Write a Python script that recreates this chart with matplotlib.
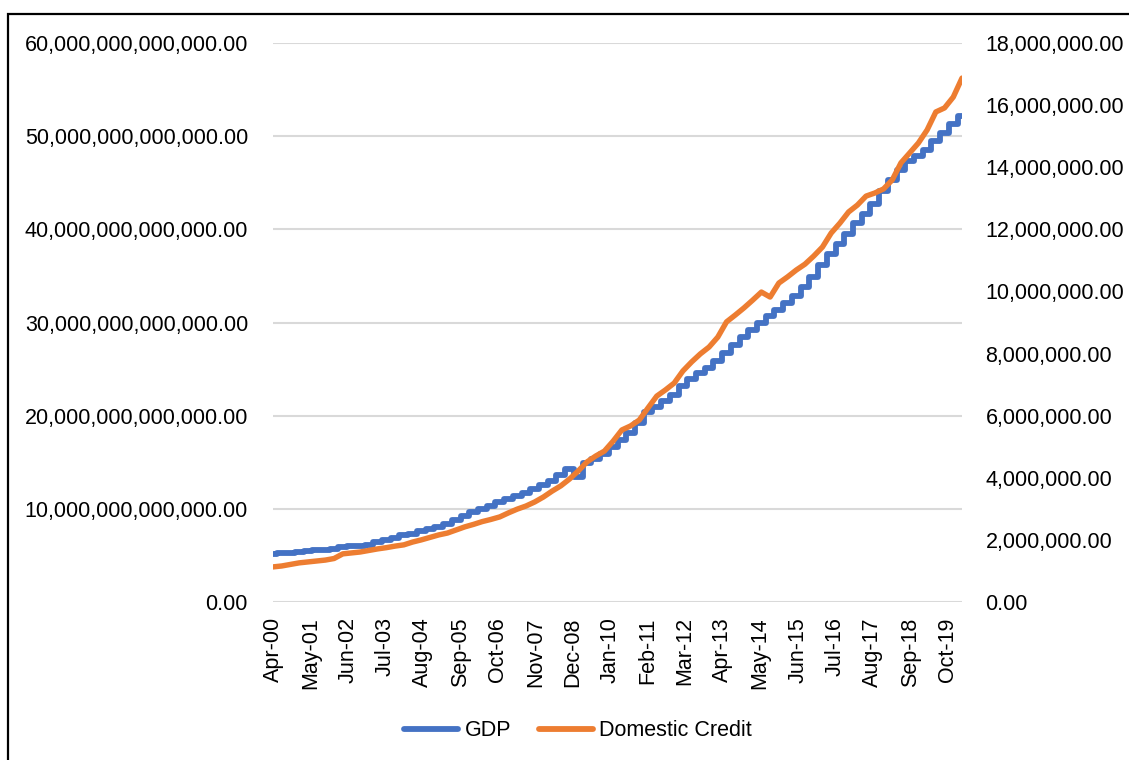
#!/usr/bin/env python3
"""GDP vs domestic credit, Apr-2000 to Mar-2020, dual-axis line chart."""

import matplotlib

matplotlib.use("Agg")
import matplotlib.pyplot as plt
import numpy as np
from matplotlib.lines import Line2D
from matplotlib.patches import Rectangle
from matplotlib.ticker import FixedLocator, FuncFormatter

_BLUE = "#4472C4"
_ORANGE = "#ED7D31"
_GRID = "#D9D9D9"
_TEXT = "#000000"
_FONT = "Liberation Sans"
_FS = 15.5
_LW = 4.2

N_MONTHS = 240  # Apr-2000 .. Mar-2020

# quarterly readings, GDP in units of 1e12 (left axis)
GDP_TRN = [
    5.15, 5.26, 5.31, 5.42, 5.47, 5.58, 5.63, 5.74, 5.85, 5.96,
    6.01, 6.17, 6.44, 6.65, 6.87, 7.14, 7.35, 7.62, 7.84, 8.10,
    8.37, 8.75, 9.23, 9.66, 9.98, 10.30, 10.68, 11.06, 11.38, 11.70,
    12.18, 12.61, 12.99, 13.63, 14.30, 13.45, 14.90, 15.30, 15.88, 16.64,
    17.39, 18.14, 19.21, 20.39, 20.93, 21.57, 22.22, 23.18, 23.93, 24.58,
    25.11, 25.87, 26.73, 27.58, 28.44, 29.19, 29.95, 30.70, 31.34, 32.09,
    32.84, 33.81, 34.88, 36.17, 37.35, 38.42, 39.50, 40.68, 41.64, 42.72,
    44.11, 45.29, 46.37, 47.33, 47.87, 48.51, 49.48, 50.34, 51.30, 52.16,
]

# quarterly readings, domestic credit in millions (right axis)
CREDIT_MN = [
    1.13, 1.16, 1.21, 1.26, 1.29, 1.32, 1.35, 1.40, 1.55, 1.58,
    1.61, 1.66, 1.71, 1.75, 1.80, 1.84, 1.93, 2.00, 2.08, 2.16,
    2.22, 2.32, 2.42, 2.50, 2.59, 2.66, 2.74, 2.87, 2.99, 3.09,
    3.22, 3.38, 3.57, 3.74, 3.96, 4.22, 4.51, 4.70, 4.86, 5.18,
    5.54, 5.67, 5.86, 6.25, 6.63, 6.83, 7.05, 7.44, 7.73, 7.99,
    8.21, 8.53, 9.02, 9.24, 9.47, 9.72, 9.98, 9.82, 10.27, 10.47,
    10.69, 10.88, 11.14, 11.43, 11.88, 12.20, 12.56, 12.78, 13.07, 13.17,
    13.30, 13.59, 14.14, 14.46, 14.78, 15.20, 15.78, 15.91, 16.26, 16.87,
]

TICK_LABELS = [
    "Apr-00", "May-01", "Jun-02", "Jul-03", "Aug-04", "Sep-05", "Oct-06",
    "Nov-07", "Dec-08", "Jan-10", "Feb-11", "Mar-12", "Apr-13", "May-14",
    "Jun-15", "Jul-16", "Aug-17", "Sep-18", "Oct-19",
]
TICK_EVERY = 13  # months between labels

LEFT_TICKS = [0, 10e12, 20e12, 30e12, 40e12, 50e12, 60e12]
RIGHT_TICKS = [0, 2e6, 4e6, 6e6, 8e6, 10e6, 12e6, 14e6, 16e6, 18e6]


def _money(v, _pos=None):
    return f"{v:,.2f}"


def main() -> None:
    plt.rcParams["font.family"] = [_FONT, "DejaVu Sans"]

    fig = plt.figure(figsize=(11.29, 7.60), dpi=100)
    fig.patch.set_facecolor("white")

    # outer chart frame (runs off the right/bottom edge)
    fig.patches.append(
        Rectangle((8 / 1129, -0.05), 1.2, 1 - 14 / 760 + 0.05,
                  transform=fig.transFigure, fill=False,
                  edgecolor="black", linewidth=1.6)
    )

    ax = fig.add_axes([273 / 1129, 1 - 602 / 760, (962 - 273) / 1129, (602 - 43) / 760])
    ax2 = ax.twinx()

    gdp = np.array(GDP_TRN) * 1e12
    credit = np.array(CREDIT_MN) * 1e6
    xq = np.linspace(0, N_MONTHS - 1, len(gdp))

    ax.plot(xq, gdp, color=_BLUE, linewidth=_LW, drawstyle="steps-mid",
            solid_joinstyle="round", solid_capstyle="round")
    ax2.plot(xq, credit, color=_ORANGE, linewidth=_LW - 0.3,
             solid_joinstyle="round", solid_capstyle="round")

    ax.set_xlim(0, N_MONTHS - 1)
    ax.set_ylim(0, 60e12)
    ax2.set_ylim(0, 18e6)

    ax.yaxis.set_major_locator(FixedLocator(LEFT_TICKS))
    ax.yaxis.set_major_formatter(FuncFormatter(_money))
    ax2.yaxis.set_major_locator(FixedLocator(RIGHT_TICKS))
    ax2.yaxis.set_major_formatter(FuncFormatter(_money))

    ax.set_xticks(np.arange(len(TICK_LABELS)) * TICK_EVERY)
    ax.set_xticklabels(TICK_LABELS, rotation=90, fontsize=_FS, color=_TEXT)

    ax.grid(axis="y", color=_GRID, linewidth=1.5)
    ax.set_axisbelow(True)

    for a in (ax, ax2):
        for spine in a.spines.values():
            spine.set_visible(False)
        a.tick_params(length=0, labelsize=_FS, colors=_TEXT)
    ax.tick_params(axis="y", pad=18)
    ax.tick_params(axis="x", pad=11)
    ax2.tick_params(axis="y", pad=17)

    handles = [
        Line2D([], [], color=_BLUE, linewidth=_LW, solid_capstyle="round"),
        Line2D([], [], color=_ORANGE, linewidth=_LW, solid_capstyle="round"),
    ]
    fig.legend(handles, ["GDP", "Domestic Credit"], loc="center",
               bbox_to_anchor=(0.512, 1 - 731 / 760), ncol=2, frameon=False,
               fontsize=_FS, handlelength=2.5, handletextpad=0.3,
               columnspacing=1.3)

    fig.savefig("out.png", dpi=100, facecolor="white")
    plt.close(fig)


if __name__ == "__main__":
    main()
